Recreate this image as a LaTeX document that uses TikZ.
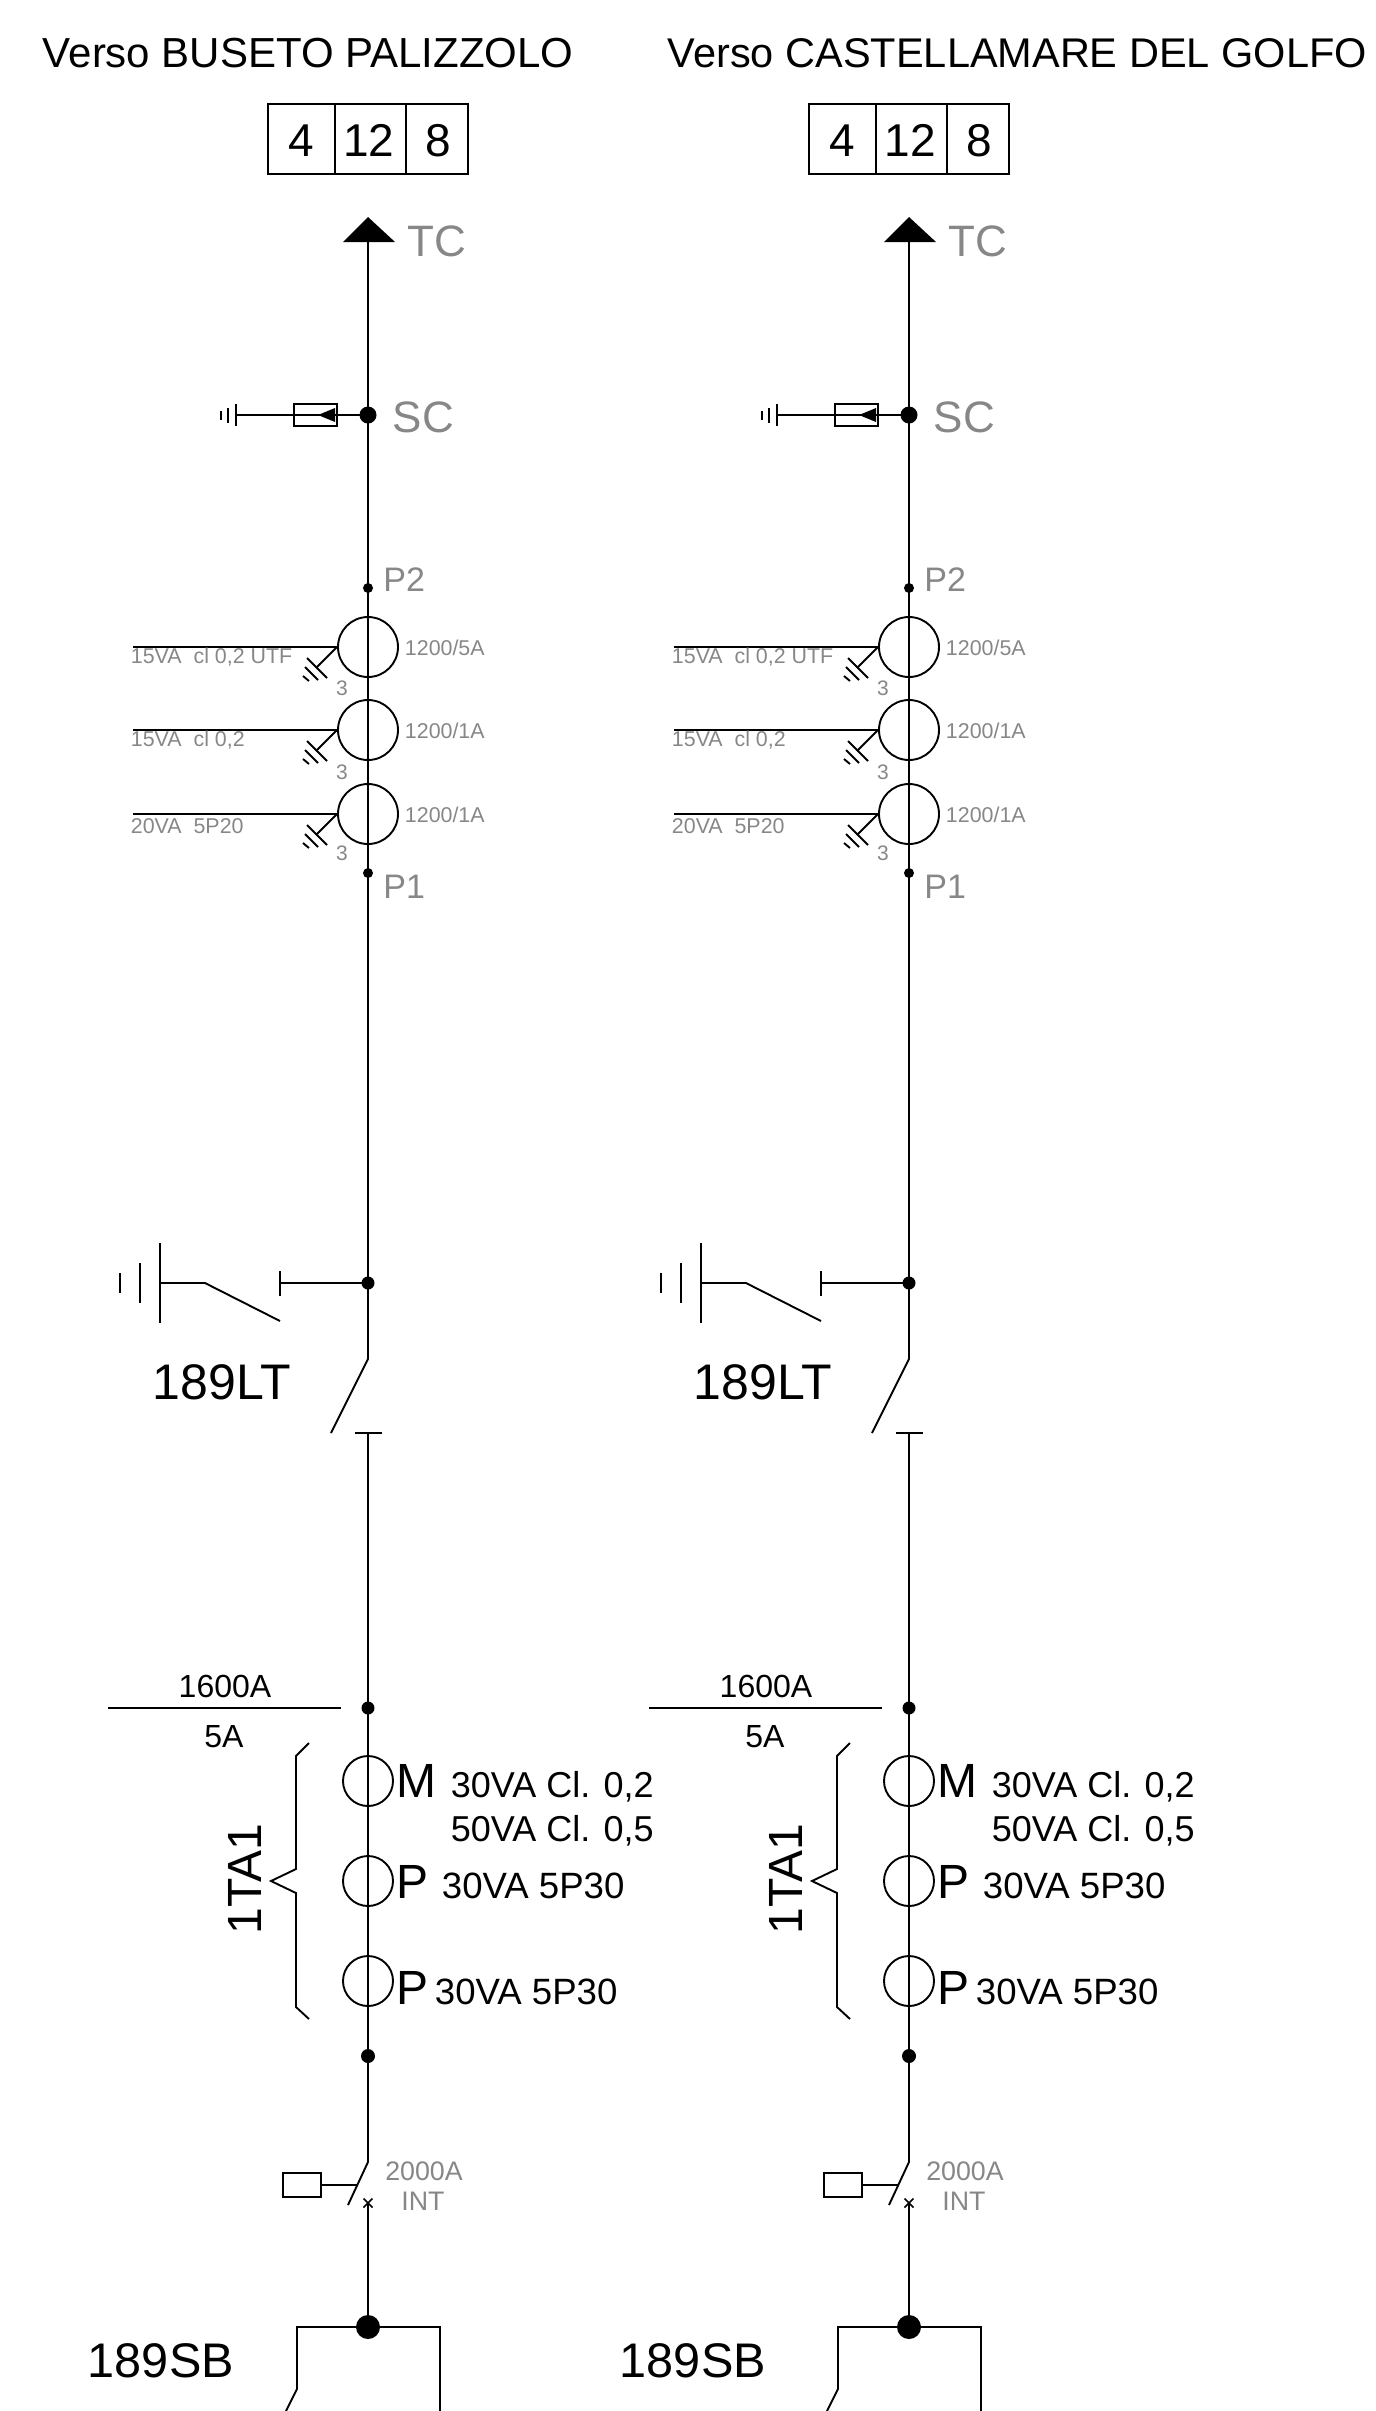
\documentclass[tikz,border=0pt]{standalone}
\usepackage{fontspec}
\setmainfont{Liberation Sans}
\newcommand{\fsz}[1]{\fontsize{#1}{#1}\selectfont}
\definecolor{labgrey}{HTML}{878787}
\tikzset{
  txt/.style={inner sep=0pt,anchor=base west},
  txtc/.style={inner sep=0pt,anchor=base},
  greytxt/.style={txt,text=labgrey},
  dotmark/.style={circle,fill=black,inner sep=0pt,minimum size=#1},
  ringmark/.style={circle,draw,inner sep=0pt,minimum size=#1},
  boxmark/.style={rectangle,draw,inner sep=0pt},
}
\begin{document}
\begin{tikzpicture}[x=0.5pt,y=-0.5pt,line width=0.95pt]
\useasboundingbox (0,0) rectangle (1376,2411);
\node[txt,font=\fsz{21}] (headA) at (42,67) {Verso BUSETO PALIZZOLO};
\node[txt,font=\fsz{20.75}] (headB) at (667,67) {Verso CASTELLAMARE DEL GOLFO};
\foreach \n/\dx/\sbx in {A/0/87,B/541/78} {
\begin{scope}[shift={(\dx,0)}]
% phase table
\node[boxmark,minimum width=33.5pt,minimum height=35pt] (fa\n) at (301.5,139) {};
\node[boxmark,minimum width=35.5pt,minimum height=35pt] (fb\n) at (370.5,139) {};
\node[boxmark,minimum width=31pt,minimum height=35pt] (fc\n) at (437,139) {};
\node[txtc,font=\fsz{23}] at (301,156) {4};
\node[txtc,font=\fsz{23}] at (369,156) {12};
\node[txtc,font=\fsz{23}] at (438,156) {8};
% upper line
\coordinate (tc\n) at (368,242);
\fill (343,242) -- (368,217) -- (395,242) -- cycle;
\node[greytxt,font=\fsz{22}] at (407,256) {TC};
\node[dotmark=8.5pt] (sc\n) at (368,415) {};
\node[greytxt,font=\fsz{22}] at (392,432) {SC};
\coordinate (scg\n) at (236,415);
\node[boxmark,minimum width=21.5pt,minimum height=11pt] (res\n) at (315.5,415) {};
\draw (sc\n.center) -- (scg\n);
\fill (318,415) -- (335,408) -- (335,422) -- cycle;
\draw (236,404) -- (236,426);
\draw (228,408) -- (228,423);
\draw (221,411) -- (221,420);
\node[dotmark=5pt] (ptwo\n) at (368,588) {};
\node[greytxt,font=\fsz{17}] at (382.5,591) {P2};
\node[dotmark=5pt] (pone\n) at (368,873) {};
\node[greytxt,font=\fsz{17}] at (382.5,898) {P1};
% voltage side transformers
\foreach \c/\yy/\ra/\rt/\ya/\yt/\yn in {
  a/647/{1200/5A}/{15VA\ \ cl 0,2 UTF}/655/663/695,
  b/730/{1200/1A}/{15VA\ \ cl 0,2}/738/746/779,
  c/814/{1200/1A}/{20VA\ \ 5P20}/822/833/860} {
  \node[ringmark=30pt] (ct\c\n) at (368,\yy) {};
  \coordinate (cw\c\n) at (133,\yy);
  \draw (ct\c\n.west) -- (cw\c\n);
  \draw (ct\c\n.west) -- ++(-21,21);
  \draw (307,\yy+11) -- ++(20,20);
  \draw (305,\yy+20) -- ++(13,13);
  \draw (303,\yy+29) -- ++(6,5);
  \node[greytxt,font=\fsz{10.7}] at (404,\ya) {\ra};
  \node[greytxt,font=\fsz{10.7}] at (130,\yt) {\rt};
  \node[txtc,text=labgrey,font=\fsz{10.5}] at (342,\yn) {3};
}
% line disconnector with earthing switch
\node[dotmark=6.5pt] (lt\n) at (368,1283) {};
\coordinate (ltb\n) at (280,1283);
\coordinate (ltc\n) at (205,1283);
\coordinate (lte\n) at (160,1283);
\draw (lt\n.center) -- (ltb\n);
\draw (280,1271) -- (280,1296);
\draw (lte\n) -- (ltc\n) -- (280,1321);
\draw (160,1243) -- (160,1323);
\draw (140,1263) -- (140,1303);
\draw (120,1273) -- (120,1293);
\node[txt,font=\fsz{25}] at (152,1399) {189LT};
\coordinate (swa\n) at (368,1359);
\coordinate (swb\n) at (331,1433);
\coordinate (swc\n) at (368,1433);
\draw (tc\n) -- (sc\n.center) -- (ptwo\n.center) -- (pone\n.center) -- (lt\n.center) -- (swa\n) -- (swb\n);
\draw (355,1433) -- (382,1433);
% current transformers
\node[dotmark=6.5pt] (tai\n) at (368,1708) {};
\draw (108,1708) -- (341,1708);
\node[txtc,font=\fsz{16}] at (225,1697) {1600A};
\node[txtc,font=\fsz{16}] at (224,1747) {5A};
\draw (309,1743) -- (296,1756) -- (296,1869) -- (271,1881) -- (296,1893) -- (296,2007) -- (309,2019);
\node[inner sep=0pt,anchor=base,rotate=90,font=\fsz{24}] at (261,1879) {1TA1};
\node[ringmark=25pt] (tam\n) at (368,1781) {};
\node[ringmark=25pt] (tap\n) at (368,1881) {};
\node[ringmark=25pt] (taq\n) at (368,1981) {};
\node[txt,font=\fsz{24}] at (396,1797) {M};
\node[txt,font=\fsz{24}] at (396,1898) {P};
\node[txt,font=\fsz{24}] at (396,2004) {P};
\node[txt,font=\fsz{18}] at (450,1797) {30VA Cl. 0,2};
\node[txt,font=\fsz{18}] at (450,1841) {50VA Cl. 0,5};
\node[txt,font=\fsz{18.3}] at (441,1898) {30VA 5P30};
\node[txt,font=\fsz{18.3}] at (434,2004) {30VA 5P30};
\node[dotmark=7pt] (tao\n) at (368,2056) {};
% breaker
\coordinate (inb\n) at (368,2162);
\coordinate (inc\n) at (348,2205);
\coordinate (ind\n) at (357,2185);
\coordinate (inx\n) at (368,2203);
\draw (swc\n) -- (tai\n.center) -- (tam\n.north) -- (taq\n.south) -- (tao\n.center) -- (inb\n) -- (inc\n);
\node[boxmark,minimum width=19pt,minimum height=12pt] (cmd\n) at (302,2185) {};
\draw (cmd\n.east) -- (ind\n);
\draw[line width=0.8pt] (363.5,2198.5) -- (372.5,2207.5) (363.5,2207.5) -- (372.5,2198.5);
\node[txtc,text=labgrey,font=\fsz{13.4}] at (424,2180) {2000A};
\node[txtc,text=labgrey,font=\fsz{13.4}] at (423,2210) {INT};
% busbar disconnector
\node[dotmark=12pt] (sb\n) at (368,2327) {};
\draw (inx\n) -- (sb\n.center);
\coordinate (sbl\n) at (297,2327);
\coordinate (sbr\n) at (440,2327);
\draw (286,2411) -- (297,2389) -- (sbl\n) -- (sbr\n) -- (440,2411);
\node[txt,font=\fsz{24.3}] at (\sbx,2377) {189SB};
\end{scope}
}
\end{tikzpicture}
\end{document}
